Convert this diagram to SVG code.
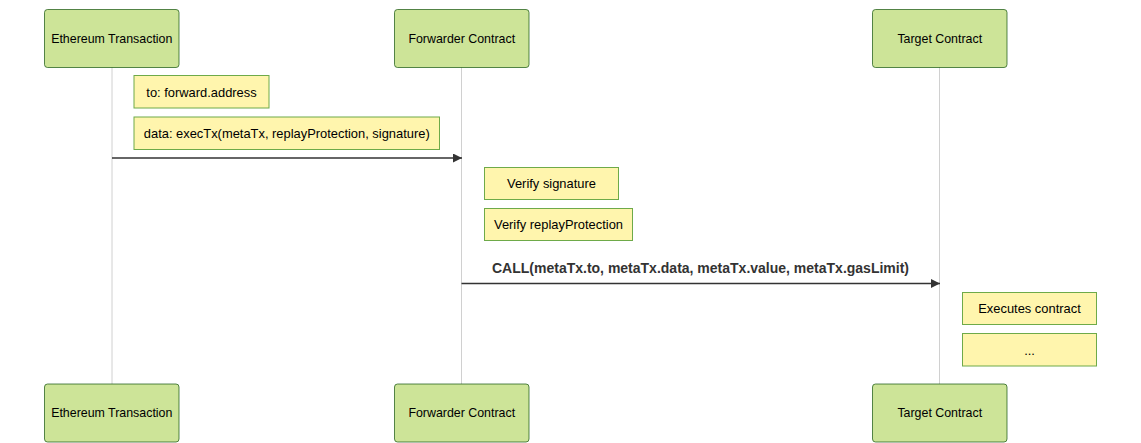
<svg xmlns="http://www.w3.org/2000/svg" width="1141" height="443" viewBox="0 0 1141 443">
<style>
.actor{fill:#cde498;stroke:#13540c;stroke-width:1;stroke-opacity:0.7}
.atext{font-family:"Liberation Sans",Arial,sans-serif;font-size:12.4px;fill:#000;text-anchor:middle;dominant-baseline:central}
.note{fill:#fff5ad;stroke:#6eaa49;stroke-width:1}
.ntext{font-family:"Liberation Sans",Arial,sans-serif;font-size:12.9px;fill:#000;text-anchor:middle;dominant-baseline:central}
.life{stroke:#d0d0d0;stroke-width:1;fill:none}
.msg{stroke:#333;stroke-width:1.5;fill:none;marker-end:url(#arrow)}
.mtext{font-family:"Liberation Sans",Arial,sans-serif;font-size:14px;font-weight:bold;fill:#333;text-anchor:middle}
</style>
<defs>
<marker id="arrow" viewBox="0 0 10 10" refX="10" refY="5" markerUnits="userSpaceOnUse" markerWidth="9" markerHeight="9" orient="auto">
<path d="M0,0 L10,5 L0,10 z" fill="#333"/>
</marker>
</defs>
<rect width="1141" height="443" fill="#fff"/>
<g id="lifelines">
<line class="life" x1="112" y1="67" x2="112" y2="384"/>
<line class="life" x1="461.5" y1="67" x2="461.5" y2="384"/>
<line class="life" x1="939.5" y1="67" x2="939.5" y2="384"/>
</g>
<g id="actor-eth-top"><rect class="actor" x="44.5" y="9.5" width="134.5" height="58" rx="3"/><text class="atext" x="111.75" y="38.5">Ethereum Transaction</text></g>
<g id="actor-fwd-top"><rect class="actor" x="394.5" y="9.5" width="134.5" height="58" rx="3"/><text class="atext" x="461.75" y="38.5">Forwarder Contract</text></g>
<g id="actor-target-top"><rect class="actor" x="872.5" y="9.5" width="134.5" height="58" rx="3"/><text class="atext" x="939.75" y="38.5">Target Contract</text></g>
<g id="actor-eth-bottom"><rect class="actor" x="44.5" y="384" width="134.5" height="58" rx="3"/><text class="atext" x="111.75" y="413">Ethereum Transaction</text></g>
<g id="actor-fwd-bottom"><rect class="actor" x="394.5" y="384" width="134.5" height="58" rx="3"/><text class="atext" x="461.75" y="413">Forwarder Contract</text></g>
<g id="actor-target-bottom"><rect class="actor" x="872.5" y="384" width="134.5" height="58" rx="3"/><text class="atext" x="939.75" y="413">Target Contract</text></g>
<g id="note-to"><rect class="note" x="134" y="75.5" width="135" height="32.5"/><text class="ntext" x="201.5" y="92">to: forward.address</text></g>
<g id="note-data"><rect class="note" x="134" y="117" width="305.5" height="32.5"/><text class="ntext" x="286.75" y="133.5">data: execTx(metaTx, replayProtection, signature)</text></g>
<g id="note-verify-sig"><rect class="note" x="484.5" y="167.5" width="134" height="32"/><text class="ntext" x="551.5" y="183.5">Verify signature</text></g>
<g id="note-verify-replay"><rect class="note" x="484.5" y="208.5" width="148" height="32"/><text class="ntext" x="558.5" y="224.5">Verify replayProtection</text></g>
<g id="note-executes"><rect class="note" x="962.5" y="292.5" width="134" height="32"/><text class="ntext" x="1029.5" y="308.5">Executes contract</text></g>
<g id="note-ellipsis"><rect class="note" x="962.5" y="333.5" width="134" height="32.5"/><text class="ntext" x="1029.5" y="350">...</text></g>
<g id="connectors">
<line class="msg" x1="112" y1="158" x2="462" y2="158"/>
<line class="msg" x1="461.5" y1="283.5" x2="940" y2="283.5"/>
<text class="mtext" x="700.5" y="273">CALL(metaTx.to, metaTx.data, metaTx.value, metaTx.gasLimit)</text>
</g>
</svg>
